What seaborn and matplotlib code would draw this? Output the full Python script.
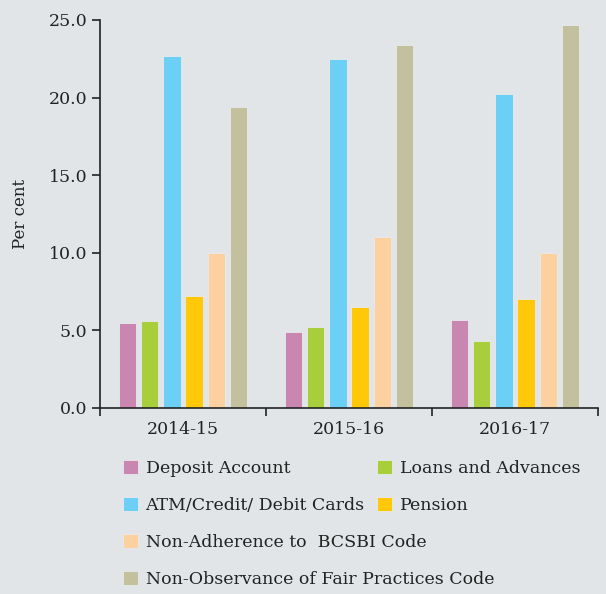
import matplotlib
matplotlib.use("Agg")
import matplotlib.pyplot as plt
import matplotlib.patches as mpatches
from matplotlib.ticker import FixedLocator, FormatStrFormatter
import seaborn as sns
import pandas as pd

# Share of complaints by type, per year (per cent)
years = ["2014-15", "2015-16", "2016-17"]
complaint_types = [
    "Deposit Account",
    "Loans and Advances",
    "ATM/Credit/ Debit Cards",
    "Pension",
    "Non-Adherence to  BCSBI Code",
    "Non-Observance of Fair Practices Code",
]
deposit_account = [5.5, 4.9, 5.7]
loans_advances = [5.6, 5.2, 4.3]
atm_cards = [22.7, 22.5, 20.2]
pension = [7.2, 6.5, 7.0]
bcsbi_code = [10.0, 11.0, 10.0]
fair_practices = [19.4, 23.4, 24.7]

colors = ["#C986B0", "#A8CE3C", "#6BCFF6", "#FFC90A", "#FDD09F", "#C3C19D"]

series = [deposit_account, loans_advances, atm_cards, pension, bcsbi_code, fair_practices]
rows = []
for name, vals in zip(complaint_types, series):
    for yr, v in zip(years, vals):
        rows.append({"year": yr, "type": name, "value": v})
df = pd.DataFrame(rows)

bg = "#E1E5E8"
ink = "#222222"

sns.set_theme(style="ticks")
plt.rcParams["font.family"] = ["DejaVu Serif"]

fig = plt.figure(figsize=(6.06, 5.94), dpi=100, facecolor=bg)
ax = fig.add_axes([100 / 606, 1 - 408 / 594, 498 / 606, 388 / 594])
ax.set_facecolor(bg)

sns.barplot(
    data=df, x="year", y="value", hue="type",
    order=years, hue_order=complaint_types, palette=colors, saturation=1,
    width=0.8, gap=0.22, edgecolor="#E8EAEC", linewidth=0.6,
    legend=False, ax=ax,
)

ax.set_xlim(-0.5, 2.5)
ax.set_ylim(0, 25)
ax.set_yticks([0, 5, 10, 15, 20, 25])
ax.yaxis.set_major_formatter(FormatStrFormatter("%.1f"))
ax.xaxis.set_minor_locator(FixedLocator([-0.5, 0.5, 1.5, 2.5]))
ax.tick_params(axis="x", which="major", length=0, labelsize=12.5, colors=ink, pad=9)
ax.tick_params(axis="x", which="minor", length=6, width=1.2, color=ink, direction="out")
ax.tick_params(axis="y", length=6, width=1.2, color=ink, labelsize=12.5, labelcolor=ink, pad=3)
ax.set_xlabel("")
ax.set_ylabel("Per cent", fontsize=12, color=ink, labelpad=14)

for s in ("top", "right"):
    ax.spines[s].set_visible(False)
for s in ("left", "bottom"):
    ax.spines[s].set_color(ink)
    ax.spines[s].set_linewidth(1.2)

def handles(idx):
    return [mpatches.Patch(facecolor=colors[i], edgecolor="#E8EAEC", linewidth=0.6,
                           label=complaint_types[i]) for i in idx]

legend_kw = dict(frameon=False, fontsize=12.5, labelcolor=ink, borderpad=0,
                 borderaxespad=0, handlelength=0.85, handleheight=0.85,
                 handletextpad=0.45, loc="upper left")

leg1 = fig.legend(handles=handles([0, 2, 4, 5]), labelspacing=1.15,
                  bbox_to_anchor=(123 / 606, 1 - 460 / 594), **legend_kw)
leg2 = fig.legend(handles=handles([1, 3]), labelspacing=1.15,
                  bbox_to_anchor=(377 / 606, 1 - 460 / 594), **legend_kw)

fig.savefig("out.png", dpi=100, facecolor=bg)
